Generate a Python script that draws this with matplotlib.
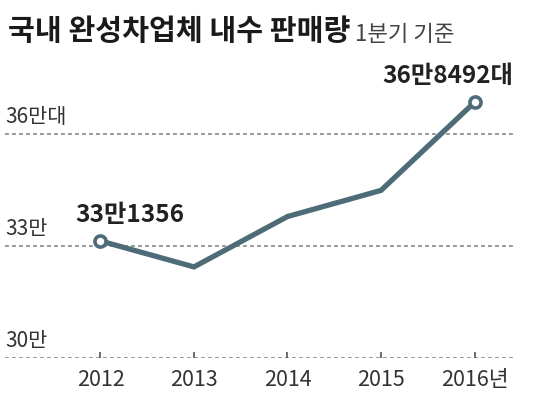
"""Domestic automaker sales, Q1 basis, 2012-2016."""

import matplotlib

matplotlib.use("Agg")
import matplotlib.pyplot as plt
import matplotlib.transforms as mtransforms

plt.rcParams["font.family"] = ["Noto Sans CJK KR", "DejaVu Sans"]

years = [2012, 2013, 2014, 2015, 2016]
year_labels = ["2012", "2013", "2014", "2015", "2016년"]
sales = [331356, 324400, 337900, 344900, 368492]  # units
grid_levels = [300000, 330000, 360000]
grid_labels = ["30만", "33만", "36만대"]
callouts = {2012: "33만1356", 2016: "36만8492대"}

LINE = "#4e6b78"
GRID = "#9a9a9a"
TEXT = "#222222"

fig = plt.figure(figsize=(5.40, 3.97), dpi=100)
ax = fig.add_axes([5 / 540, 39 / 397, 510 / 540, 268 / 397])
ax.set_xlim(2010.979, 2016.433)
ax.set_ylim(300000, 371800)
for s in ax.spines.values():
    s.set_visible(False)
ax.set_yticks([])

for lvl in grid_levels:
    ax.axhline(lvl, color=GRID, lw=1.4, ls=(0, (2.0, 1.6)), zorder=1)

trans = mtransforms.blended_transform_factory(ax.transAxes, ax.transData)
for lvl, lab in zip(grid_levels, grid_labels):
    ax.annotate(lab, (0, lvl), xycoords=trans, xytext=(0, 4), textcoords="offset points",
                ha="left", va="bottom", fontsize=15, color="#333333")

ax.set_xticks(years, year_labels)
ax.tick_params(axis="x", direction="in", length=4, width=1.2, color="#555555",
               pad=8, labelsize=15.5, labelcolor="#333333")

ax.plot(years, sales, color=LINE, lw=3.8, solid_joinstyle="miter", zorder=3, clip_on=False)
for yr in callouts:
    i = years.index(yr)
    ax.plot(years[i], sales[i], "o", ms=8, mfc="white", mec=LINE, mew=2.6, zorder=4, clip_on=False)
    ha = "right" if yr == years[-1] else "left"
    dx = 28 if yr == years[-1] else -18
    ax.annotate(callouts[yr], (years[i], sales[i]), xytext=(dx, 10), textcoords="offset points",
                ha=ha, va="bottom", fontsize=17.5, fontweight="bold", color=TEXT)

title = fig.text(8 / 540, 1 - 40 / 397, "국내 완성차업체 내수 판매량", fontsize=21, fontweight="bold",
                 color="#1a1a1a", ha="left", va="baseline")
fig.canvas.draw()
ax.annotate("1분기 기준", xy=(1, 0), xycoords=title, xytext=(3, 0), textcoords="offset points",
            fontsize=16, color="#444444", ha="left", va="bottom", annotation_clip=False)

fig.savefig("out.png", dpi=100, facecolor="white")
